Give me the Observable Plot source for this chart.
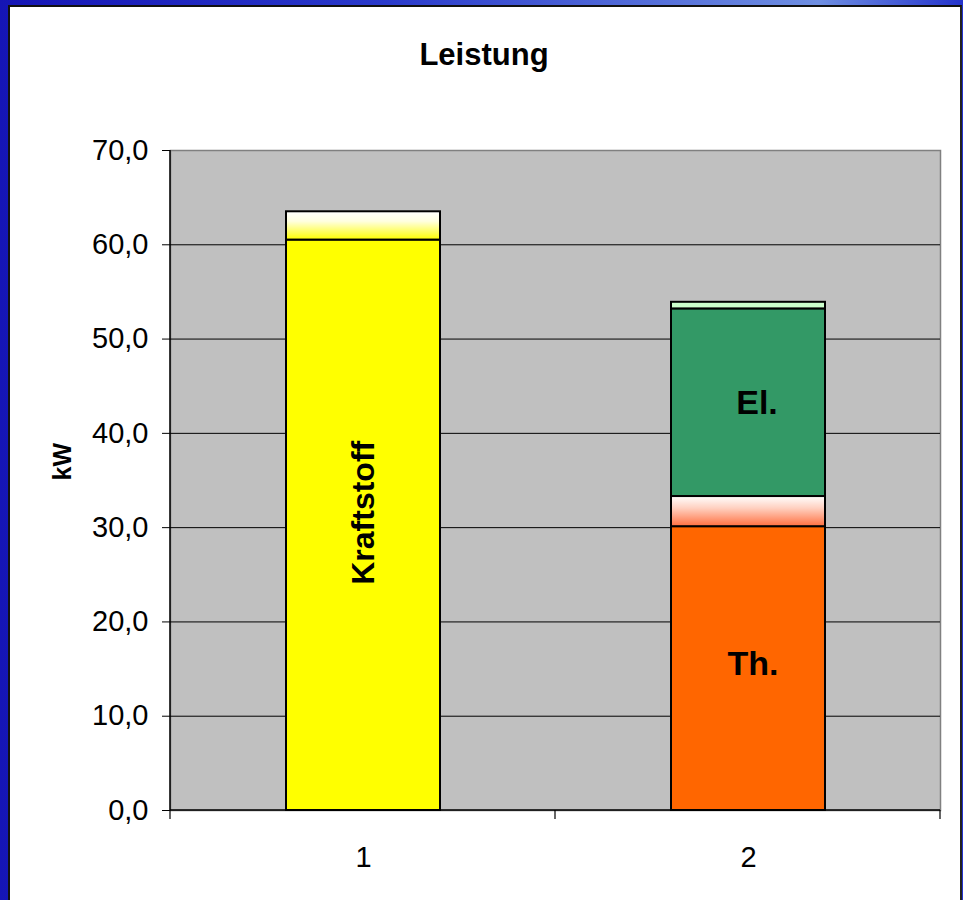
<!DOCTYPE html>
<html>
<head>
<meta charset="utf-8">
<script src="https://cdn.jsdelivr.net/npm/d3@7"></script>
<script src="https://cdn.jsdelivr.net/npm/@observablehq/plot@0.6"></script>
<style>
  html, body { margin: 0; padding: 0; }
  body { width: 963px; height: 900px; position: relative; overflow: hidden;
         background: linear-gradient(90deg, #1515b5 0%, #2a3acb 40%, #6f8fe2 85%, #2433cc 100%);
         font-family: "Liberation Sans", Arial, sans-serif; }
  #panel { position: absolute; left: 8px; top: 5px; width: 950px; height: 895px; background: #fff;
           border-left: 2px solid #111; border-top: 2px solid #111; border-right: 2px solid #222; }
  #title { position: absolute; left: 0; top: 36px; width: 968px; text-align: center;
           font-weight: bold; font-size: 31px; line-height: 38px; color: #000; }
  #chart { position: absolute; left: 0; top: 0; }
</style>
</head>
<body>
<div id="panel"></div>
<div id="title">Leistung</div>
<div id="chart"></div>
<script>
// ---- data ----
const categories = ["1", "2"];
const groups = ["1", "1", "2", "2", "2", "2"];
const parts = ["Kraftstoff", "Verlust 1", "Th.", "Verlust 2", "El.", "Rest"];
const values = [60.5, 3.0, 30.1, 3.2, 19.9, 0.7];
const labels = ["Kraftstoff", "", "Th.", "", "El.", ""];
const yTicks = [0, 10, 20, 30, 40, 50, 60, 70];
const gridTicks = [10, 20, 30, 40, 50, 60];
const fills = ["#ffff00", "url(#gradYellow)", "#ff6600", "url(#gradRed)", "#339966", "#ccffcc"];

const rows = values.map((v, i) => ({group: groups[i], part: parts[i], value: v, label: labels[i]}));
const fmt = d => d.toFixed(1).replace(".", ",");

function defsMark() {
  const svg = d3.create("svg:g");
  const defs = svg.append("defs");
  const gy = defs.append("linearGradient").attr("id", "gradYellow").attr("x1", 0).attr("y1", 0).attr("x2", 0).attr("y2", 1);
  gy.append("stop").attr("offset", "0%").attr("stop-color", "#ffffff");
  gy.append("stop").attr("offset", "35%").attr("stop-color", "#ffffe0");
  gy.append("stop").attr("offset", "100%").attr("stop-color", "#ffff00");
  const gr = defs.append("linearGradient").attr("id", "gradRed").attr("x1", 0).attr("y1", 0).attr("x2", 0).attr("y2", 1);
  gr.append("stop").attr("offset", "0%").attr("stop-color", "#ffffff");
  gr.append("stop").attr("offset", "40%").attr("stop-color", "#ffd0c0");
  gr.append("stop").attr("offset", "100%").attr("stop-color", "#ff7040");
  return svg.node();
}

function axisDecor(index, scales, values, dim) {
  const g = d3.create("svg:g");
  const x0 = dim.marginLeft, x1 = dim.width - dim.marginRight;
  const yb = dim.height - dim.marginBottom, yt = dim.marginTop;
  g.append("line").attr("x1", x0).attr("x2", x0).attr("y1", yt).attr("y2", yb)
    .attr("stroke", "#000").attr("stroke-width", 1.5);
  g.append("line").attr("x1", x0).attr("x2", x1).attr("y1", yb).attr("y2", yb)
    .attr("stroke", "#000").attr("stroke-width", 1.5);
  const step = (x1 - x0) / categories.length;
  for (let i = 0; i <= categories.length; i++) {
    const x = x0 + i * step;
    g.append("line").attr("x1", x).attr("x2", x).attr("y1", yb).attr("y2", yb + 9)
      .attr("stroke", "#000").attr("stroke-width", 1.2);
  }
  return g.node();
}

const chart = Plot.plot({
  width: 963,
  height: 900,
  marginLeft: 170,
  marginRight: 23,
  marginTop: 150,
  marginBottom: 90,
  style: {background: "transparent", fontFamily: "Liberation Sans, Arial, sans-serif", fontSize: "29px", color: "#000"},
  x: {domain: categories, paddingInner: 0.6, paddingOuter: 0.3, label: null, axis: null},
  y: {domain: [0, 70], label: null, axis: null},
  color: {type: "ordinal", domain: parts, range: fills},
  marks: [
    defsMark,
    Plot.frame({fill: "#c0c0c0", stroke: "#808080", strokeWidth: 1.5}),
    Plot.ruleY(gridTicks, {stroke: "#000", strokeWidth: 1}),
    Plot.axisY(yTicks, {tickFormat: fmt, tickSize: 8, tickPadding: 14, fontSize: 29, stroke: "#000", label: null}),
    Plot.axisX(categories, {tickSize: 0, tickPadding: 36, fontSize: 29, label: null}),
    Plot.text(["kW"], {frameAnchor: "left", dx: -108, rotate: -90, fontWeight: "bold", fontSize: 25, text: d => d}),
    Plot.barY(rows, Plot.stackY({x: "group", y: "value", fill: "part", stroke: "#000", strokeWidth: 2, order: null})),
    axisDecor
  ]
});
document.getElementById("chart").append(chart);

// In-bar labels, positioned with the chart's own scales
(function () {
  const svg = document.querySelector("#chart svg");
  const ys = chart.scale("y"), xs = chart.scale("x");
  const cum = {};
  const style = {
    "Kraftstoff": {size: 32, dx: 0, dy: -12, rot: -90},
    "El.": {size: 34, dx: 9, dy: 0, rot: 0},
    "Th.": {size: 34, dx: 5, dy: -5, rot: 0}
  };
  rows.forEach(r => {
    const base = cum[r.group] || 0;
    cum[r.group] = base + r.value;
    if (!r.label) return;
    const s = style[r.label];
    const cx = xs.apply(r.group) + xs.bandwidth / 2 + s.dx;
    const cy = ys.apply(base + r.value / 2) + s.dy;
    const t = document.createElementNS("http://www.w3.org/2000/svg", "text");
    t.setAttribute("transform", `translate(${cx},${cy}) rotate(${s.rot})`);
    t.setAttribute("text-anchor", "middle");
    t.setAttribute("dy", "0.35em");
    t.setAttribute("font-weight", "bold");
    t.setAttribute("font-size", s.size);
    t.setAttribute("font-family", "Liberation Sans, Arial, sans-serif");
    t.textContent = r.label;
    svg.appendChild(t);
  });
})();
</script>
</body>
</html>
